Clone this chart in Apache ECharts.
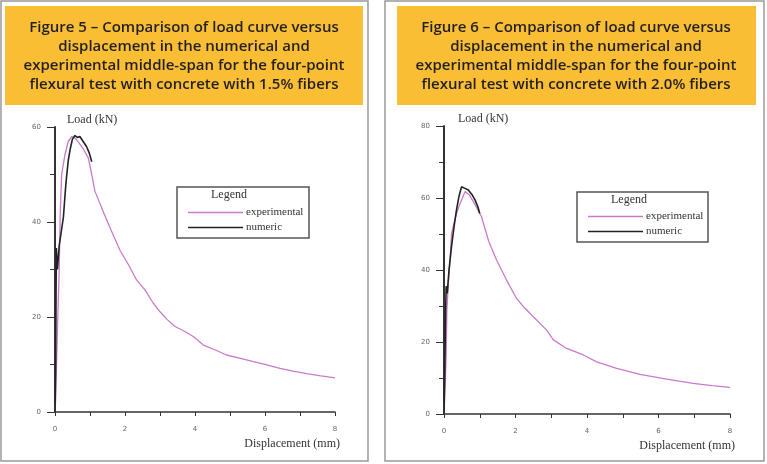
<!DOCTYPE html>
<html>
<head>
<meta charset="utf-8">
<script src="https://cdn.jsdelivr.net/npm/echarts@6/dist/echarts.min.js"></script>
<style>
  html, body { margin: 0; padding: 0; background: #fff; }
  #main { width: 767px; height: 464px; }
</style>
</head>
<body>
<div id="main"></div>
<script>
  // Figure 5 (1.5% fibers) - [displacement mm, load kN]
  const exp15 = [[0,0],[0.02,3],[0.05,12],[0.08,20],[0.1,25],[0.12,30],[0.15,42],[0.19,50],[0.28,54],[0.38,57],[0.48,58],[0.6,57.5],[0.8,55.5],[0.95,53.5],[1.05,50],[1.14,46.5],[1.25,44.5],[1.4,41.8],[1.6,38.3],[1.86,34],[2.1,31],[2.33,27.8],[2.57,25.7],[2.8,23],[3.0,21.1],[3.2,19.5],[3.43,18],[3.7,17],[3.95,15.9],[4.24,14.1],[4.6,13],[4.9,12],[5.3,11.3],[5.67,10.6],[6.05,9.9],[6.43,9.2],[6.8,8.6],[7.19,8.1],[7.6,7.6],[8.0,7.2]];
  const num15 = [[0,0],[0.02,10],[0.03,25],[0.04,34.5],[0.07,30],[0.12,35],[0.2,39],[0.24,41],[0.3,47],[0.33,49.5],[0.38,53],[0.43,55.2],[0.5,57.5],[0.57,58.2],[0.64,57.8],[0.71,58],[0.8,57],[0.9,55.9],[0.98,54.5],[1.05,52.7]];

  // Figure 6 (2.0% fibers)
  const exp20 = [[0,0],[0.03,8],[0.06,16],[0.08,29],[0.12,36],[0.17,43],[0.21,50],[0.28,53],[0.35,55.7],[0.45,58.5],[0.59,61.8],[0.7,61],[0.85,58.5],[1.05,54.8],[1.25,48],[1.47,42.8],[1.75,37.2],[2.03,32.1],[2.25,29.5],[2.5,27],[2.87,23.3],[3.06,20.6],[3.43,18.2],[3.9,16.4],[4.27,14.5],[4.83,12.7],[5.48,11],[6.23,9.7],[6.97,8.5],[7.5,7.9],[8.0,7.4]];
  const num20 = [[0,0],[0.02,10],[0.04,25],[0.06,35.5],[0.09,33.5],[0.14,40],[0.21,46.5],[0.28,52],[0.35,56.7],[0.42,60.5],[0.49,63.1],[0.54,63.3],[0.6,62.6],[0.68,62.2],[0.78,61],[0.87,59.4],[0.95,57.5],[1.0,55.7]];

  const titles = [
    'Figure 5 \u2013 Comparison of load curve versus\ndisplacement in the numerical and\nexperimental middle-span for the four-point\nflexural test with concrete with 1.5% fibers',
    'Figure 6 \u2013 Comparison of load curve versus\ndisplacement in the numerical and\nexperimental middle-span for the four-point\nflexural test with concrete with 2.0% fibers'
  ];
  const yMax = [60, 80];

  const serif = 'Liberation Serif';
  const pink = '#c97bcb';
  const black = '#222';

  function xAx(i) {
    return {
      type: 'value', gridIndex: i, min: 0, max: 8, interval: 2,
      name: 'Displacement (mm)', nameLocation: 'end', nameGap: 5,
      nameTextStyle: { fontFamily: serif, fontSize: 12, color: '#333', align: 'right', verticalAlign: 'top', padding: [26, 0, 0, 0] },
      axisLine: { lineStyle: { color: '#333', width: 1.5 } },
      axisTick: { length: 4, lineStyle: { color: '#333' } },
      minorTick: { show: true, splitNumber: 2, length: 4, lineStyle: { color: '#333' } },
      axisLabel: { fontSize: 7, color: '#666', margin: 14, fontFamily: 'DejaVu Sans' },
      splitLine: { show: false }
    };
  }
  function yAx(i) {
    return {
      type: 'value', gridIndex: i, min: 0, max: yMax[i], interval: 20,
      name: 'Load (kN)', nameLocation: 'end', nameGap: 1,
      nameTextStyle: { fontFamily: serif, fontSize: 12, color: '#333', align: 'left', padding: [0, 0, 0, i === 0 ? 12 : 14] },
      axisLine: { show: true, lineStyle: { color: '#333', width: 2 } },
      axisTick: { show: true, length: 8, lineStyle: { color: '#333' } },
      minorTick: { show: true, splitNumber: 2, length: 5, lineStyle: { color: '#333' } },
      axisLabel: { fontSize: 7, color: '#666', margin: 14, fontFamily: 'DejaVu Sans' },
      splitLine: { show: false }
    };
  }
  function lineSeries(name, data, i, color, w) {
    return {
      name: name, type: 'line', xAxisIndex: i, yAxisIndex: i, data: data,
      symbol: 'none', smooth: false, lineStyle: { color: color, width: w }, itemStyle: { color: color }
    };
  }
  function legendBox(left, top) {
    return {
      data: ['experimental', 'numeric'], orient: 'vertical', left: left, top: top,
      icon: 'rect', itemWidth: 55, itemHeight: 1.5, itemGap: 4, selectedMode: false,
      textStyle: { fontFamily: serif, fontSize: 11, color: '#333', padding: [0, 0, 0, -2] }
    };
  }

  const chart = echarts.init(document.getElementById('main'), null, { renderer: 'canvas' });
  const option = {
    animation: false,
    backgroundColor: '#fff',
    grid: [
      { left: 55, top: 127, width: 280, height: 285 },
      { left: 444, top: 126, width: 286, height: 288 }
    ],
    xAxis: [xAx(0), xAx(1)],
    yAxis: [yAx(0), yAx(1)],
    legend: [legendBox(183, 202), legendBox(583, 206)],
    series: [
      lineSeries('experimental', exp15, 0, pink, 1.3),
      lineSeries('numeric', num15, 0, black, 1.6),
      lineSeries('experimental', exp20, 1, pink, 1.3),
      lineSeries('numeric', num20, 1, black, 1.6)
    ],
    graphic: [
      // panel frames
      { type: 'rect', shape: { x: 1, y: 1, width: 367, height: 460 }, style: { fill: 'none', stroke: '#999', lineWidth: 1.5 }, z: -1 },
      { type: 'rect', shape: { x: 385, y: 1, width: 379, height: 460 }, style: { fill: 'none', stroke: '#999', lineWidth: 1.5 }, z: -1 },
      // title boxes
      { type: 'rect', shape: { x: 5, y: 6, width: 358, height: 99 }, style: { fill: '#f9be33' } },
      { type: 'rect', shape: { x: 397, y: 6, width: 359, height: 99 }, style: { fill: '#f9be33' } },
      { type: 'text', x: 184, y: 56, style: { text: titles[0], font: '600 15px "Open Sans"', fill: '#231f20', align: 'center', verticalAlign: 'middle', textAlign: 'center', textVerticalAlign: 'middle', lineHeight: 19 } },
      { type: 'text', x: 576, y: 56, style: { text: titles[1], font: '600 15px "Open Sans"', fill: '#231f20', align: 'center', verticalAlign: 'middle', textAlign: 'center', textVerticalAlign: 'middle', lineHeight: 19 } },
      // legend frames
      { type: 'rect', shape: { x: 177, y: 187, width: 132, height: 51 }, style: { fill: 'none', stroke: '#555', lineWidth: 1.5 } },
      { type: 'rect', shape: { x: 577, y: 192, width: 131, height: 50 }, style: { fill: 'none', stroke: '#555', lineWidth: 1.5 } },
      { type: 'text', x: 211, y: 189, style: { text: 'Legend', font: '12px "Liberation Serif"', fill: '#333' } },
      { type: 'text', x: 611, y: 194, style: { text: 'Legend', font: '12px "Liberation Serif"', fill: '#333' } }
    ]
  };
  chart.setOption(option);
</script>
</body>
</html>
